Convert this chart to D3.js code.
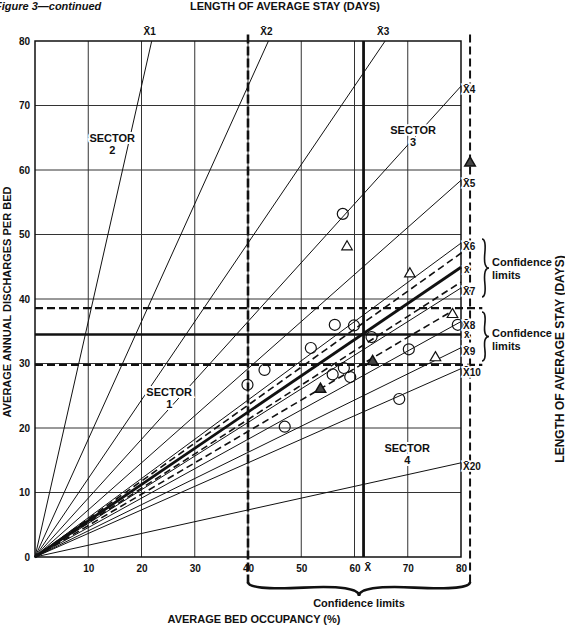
<!DOCTYPE html>
<html><head><meta charset="utf-8">
<script src="https://cdn.jsdelivr.net/npm/d3@7"></script>
<style>
body{margin:0;background:#fff}
svg text{font-family:"Liberation Sans",Arial,sans-serif;font-weight:bold;fill:#111}
</style></head><body>
<div id="chart"></div>
<script>
'use strict'
// length of stay rays (days)
const stayDays=[1,2,3,4,5,6,7,8,9,10,20]
const xTicks=[10,20,30,40,50,60,70,80]
const yTicks=[0,10,20,30,40,50,60,70,80]
const gridVals=[10,20,30,40,50,60,70]
// means and confidence limits
const meanStay=6.5
const stayLimits=[6.2,6.85]
const trendStay=7.5
const meanDischarges=34.5
const dischargeLimits=[29.8,38.6]
const meanOccupancy=61.7
const occupancyLimits=[40,81.7]
// hospitals: [occupancy %, discharges per bed]
const circlePts=[[57.8,53.2],[56.3,36.0],[59.9,35.9],[63.2,34.1],[51.8,32.4],[70.2,32.2],[43.1,29.0],[39.9,26.7],[55.9,28.3],[58.0,29.3],[59.2,27.9],[68.4,24.5],[46.9,20.2],[79.4,36.0]]
const openTriPts=[[58.6,48.1],[70.4,43.9],[75.2,30.9],[78.4,37.6]]
const darkTriPts=[[81.7,61.1],[63.4,30.3],[53.6,26.0]]
const sectorNames=["1","2","3","4"]

const width=565,height=631
const x=d3.scaleLinear().domain([0,80]).range([35,461])
const y=d3.scaleLinear().domain([0,80]).range([557,41])

const svg=d3.select("#chart").append("svg").attr("width",width).attr("height",height)

function rayEnd(L,xmax){let k=3.65/L;let xe=xmax,ye=k*xe
if(ye>80){ye=80;xe=80/k}
return[xe,ye]}
function ray(g,L,xmax){let e=rayEnd(L,xmax)
return g.append("line").attr("x1",x(0)).attr("y1",y(0)).attr("x2",x(e[0])).attr("y2",y(e[1])).attr("stroke","#111")}
function curly(x1,y1,x2,y2,w,q){let dx=x1-x2,dy=y1-y2,len=Math.sqrt(dx*dx+dy*dy);dx/=len;dy/=len
let qx1=x1+q*w*dy,qy1=y1-q*w*dx
let qx2=(x1-.25*len*dx)+(1-q)*w*dy,qy2=(y1-.25*len*dy)-(1-q)*w*dx
let tx1=(x1-.5*len*dx)+w*dy,ty1=(y1-.5*len*dy)-w*dx
let qx3=x2+q*w*dy,qy3=y2-q*w*dx
let qx4=(x1-.75*len*dx)+(1-q)*w*dy,qy4=(y1-.75*len*dy)-(1-q)*w*dx
return`M${x1},${y1}Q${qx1},${qy1} ${qx2},${qy2}T${tx1},${ty1}M${x2},${y2}Q${qx3},${qy3} ${qx4},${qy4}T${tx1},${ty1}`}

// grid
let grid=svg.append("g").attr("stroke","#333").attr("stroke-width",1)
grid.selectAll(".gx").data(gridVals).enter().append("line").attr("x1",d=>x(d)).attr("x2",d=>x(d)).attr("y1",y(0)).attr("y2",y(80))
grid.selectAll(".gy").data(gridVals).enter().append("line").attr("y1",d=>y(d)).attr("y2",d=>y(d)).attr("x1",x(0)).attr("x2",x(80))
svg.append("rect").attr("x",x(0)).attr("y",y(80)).attr("width",x(80)-x(0)).attr("height",y(0)-y(80)).attr("fill","none").attr("stroke","#111").attr("stroke-width",1.5)

// rays
let rays=svg.append("g")
stayDays.forEach(L=>ray(rays,L,80).attr("stroke-width",1))
ray(rays,stayLimits[0],occupancyLimits[1]).attr("stroke-width",1.6).attr("stroke-dasharray","7,4")
ray(rays,stayLimits[1],80).attr("stroke-width",1.6).attr("stroke-dasharray","7,4")
ray(rays,trendStay,78.5).attr("stroke-width",1.6).attr("stroke-dasharray","7,4")
ray(rays,meanStay,80).attr("stroke-width",2.8)

// mean lines and limits
svg.append("line").attr("x1",x(0)).attr("x2",x(80)).attr("y1",y(meanDischarges)).attr("y2",y(meanDischarges)).attr("stroke","#111").attr("stroke-width",2.6)
svg.selectAll(".dl").data(dischargeLimits).enter().append("line").attr("x1",x(0)).attr("x2",x(84)).attr("y1",d=>y(d)).attr("y2",d=>y(d)).attr("stroke","#111").attr("stroke-width",2.2).attr("stroke-dasharray","8,4")
svg.append("line").attr("x1",x(meanOccupancy)).attr("x2",x(meanOccupancy)).attr("y1",y(0)).attr("y2",y(80)).attr("stroke","#111").attr("stroke-width",2.8)
svg.selectAll(".ol").data(occupancyLimits).enter().append("line").attr("x1",d=>x(d)).attr("x2",d=>x(d)).attr("y1",y(81)).attr("y2",d=>d==40?585:583).attr("stroke","#111").attr("stroke-width",d=>d==40?2.6:2).attr("stroke-dasharray",d=>d==40?"9,3":"8,4")

// braces
svg.append("path").attr("d",curly(x(occupancyLimits[0]),582,x(occupancyLimits[1]),582,14,.6)).attr("fill","none").attr("stroke","#111").attr("stroke-width",2.6)
svg.append("path").attr("d",curly(482,297,482,239,7,.6)).attr("fill","none").attr("stroke","#111").attr("stroke-width",1.6)
svg.append("path").attr("d",curly(482,361,482,312,7,.6)).attr("fill","none").attr("stroke","#111").attr("stroke-width",1.6)

// points
svg.selectAll(".pc").data(circlePts).enter().append("circle").attr("cx",d=>x(d[0])).attr("cy",d=>y(d[1])).attr("r",5.5).attr("fill","none").attr("stroke","#111").attr("stroke-width",1.2)
let tri=d3.symbol(d3.symbolTriangle,48)
svg.selectAll(".pt").data(openTriPts).enter().append("path").attr("d",tri).attr("transform",d=>`translate(${x(d[0])},${y(d[1])})`).attr("fill","#fff").attr("stroke","#111").attr("stroke-width",1.2)
svg.selectAll(".pd").data(darkTriPts).enter().append("path").attr("d",tri).attr("transform",d=>`translate(${x(d[0])},${y(d[1])})`).attr("fill","#444").attr("stroke","#111").attr("stroke-width",1.5)

// axes
let ax=svg.append("g").attr("transform",`translate(0,${y(0)})`).call(d3.axisBottom(x).tickValues(xTicks).tickSize(0).tickPadding(8))
ax.select(".domain").remove()
ax.selectAll("text").attr("font-size",10).attr("font-family",null)
let ay=svg.append("g").attr("transform",`translate(${x(0)},0)`).call(d3.axisLeft(y).tickValues(yTicks).tickSize(0).tickPadding(5))
ay.select(".domain").remove()
ay.selectAll("text").attr("font-size",10).attr("font-family",null)

// stay labels
let lab=svg.append("g").attr("font-size",10)
stayDays.forEach(L=>{let e=rayEnd(L,80)
let t=lab.append("text").attr("stroke","#fff").attr("stroke-width",3).attr("paint-order","stroke")
if(e[1]>=80){t.attr("x",x(e[0])-2).attr("y",y(80)-6).attr("text-anchor","middle")}
else{t.attr("x",x(80)+2).attr("y",y(e[1])+7)}
t.text("X\u0304"+L)})
lab.append("text").attr("x",x(80)+3).attr("y",y(3.65*80/meanStay)+6).attr("stroke","#fff").attr("stroke-width",3).attr("paint-order","stroke").text("x\u0304")
lab.append("text").attr("x",x(80)+3).attr("y",y(meanDischarges)+4).attr("stroke","#fff").attr("stroke-width",3).attr("paint-order","stroke").text("x\u0304")
lab.append("text").attr("x",x(meanOccupancy)+1).attr("y",571).text("X\u0304")

// sectors
const sectorPos={"1":[25.2,25.0],"2":[14.5,64.3],"3":[71.0,65.6],"4":[69.9,16.3]}
let sec=svg.append("g").attr("font-size",11).attr("text-anchor","middle")
sectorNames.forEach(s=>{let p=sectorPos[s]
let t=sec.append("text").attr("x",x(p[0])).attr("y",y(p[1])).attr("stroke","#fff").attr("stroke-width",4).attr("paint-order","stroke")
t.append("tspan").text("SECTOR")
t.append("tspan").attr("x",x(p[0])).attr("dy",12).text(s)})

// confidence texts
let ct=svg.append("g").attr("font-size",11)
ct.append("text").attr("x",492).attr("y",266).text("Confidence")
ct.append("text").attr("x",492).attr("y",279).text("limits")
ct.append("text").attr("x",492).attr("y",337).text("Confidence")
ct.append("text").attr("x",492).attr("y",350).text("limits")
ct.append("text").attr("x",x((occupancyLimits[0]+occupancyLimits[1])/2)).attr("y",607).attr("text-anchor","middle").text("Confidence limits")

// titles
svg.append("text").attr("x",-5).attr("y",10).attr("font-size",11).attr("font-style","italic").attr("font-weight","normal").text("Figure 3\u2014continued")
svg.append("text").attr("x",285).attr("y",10).attr("font-size",11).attr("text-anchor","middle").text("LENGTH OF AVERAGE STAY (DAYS)")
svg.append("text").attr("x",254).attr("y",623).attr("font-size",11).attr("text-anchor","middle").text("AVERAGE BED OCCUPANCY (%)")
svg.append("text").attr("transform","translate(11,302)rotate(-90)").attr("font-size",11).attr("text-anchor","middle").text("AVERAGE ANNUAL DISCHARGES PER BED")
svg.append("text").attr("transform","translate(564,359)rotate(-90)").attr("font-size",12).attr("text-anchor","middle").text("LENGTH OF AVERAGE STAY (DAYS)")
</script>
</body></html>
